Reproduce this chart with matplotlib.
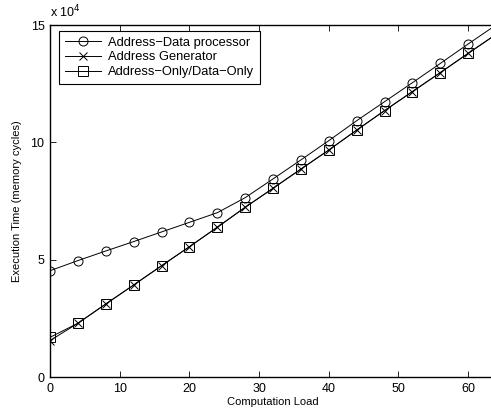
import numpy as np
import matplotlib.pyplot as plt

plt.rcParams['font.family'] = ['Liberation Sans', 'DejaVu Sans']

# computation load (x) and execution times in units of 1e4 memory cycles
load = [0, 4, 8, 12, 16, 20, 24, 28, 32, 36, 40, 44, 48, 52, 56, 60, 64]
addr_data = [4.53, 4.96, 5.37, 5.77, 6.18, 6.59, 7.00, 7.64, 8.44, 9.25,
             10.07, 10.92, 11.73, 12.54, 13.36, 14.19, 15.00]
addr_gen = [1.55, 2.29, 3.11, 3.92, 4.74, 5.55, 6.38, 7.23, 8.04, 8.86,
            9.67, 10.52, 11.35, 12.16, 12.97, 13.79, 14.60]
addr_only = [1.69, 2.29, 3.11, 3.92, 4.74, 5.55, 6.38, 7.23, 8.04, 8.86,
             9.67, 10.52, 11.35, 12.16, 12.97, 13.79, 14.60]

fig = plt.figure(figsize=(4.91, 4.13), dpi=100)
ax = fig.add_axes([50 / 491, 36 / 413, 446 / 491, 352 / 413])

scale = 1e4
ax.plot(load, np.array(addr_data) * scale, color='k', lw=0.7, marker='o',
        ms=6.5, mfc='none', mew=0.7, label='Address\u2212Data processor')
ax.plot(load, np.array(addr_gen) * scale, color='k', lw=0.7, marker='x',
        ms=6, mew=0.7, label='Address Generator')
ax.plot(load, np.array(addr_only) * scale, color='k', lw=0.7, marker='s',
        ms=6.5, mfc='none', mew=0.7, label='Address\u2212Only/Data\u2212Only')

ax.set_xlim(0, 64)
ax.set_ylim(0, 15e4)
ax.set_xticks([0, 10, 20, 30, 40, 50, 60])
ax.set_yticks([0, 5e4, 10e4, 15e4])
ax.set_yticklabels(['0', '5', '10', '15'])
ax.tick_params(direction='in', length=4, width=0.6, top=True, right=False,
               labelsize=9, pad=4)
for s in ax.spines.values():
    s.set_linewidth(1.0)

ax.text(0.0, 1.012, 'x 10$^4$', transform=ax.transAxes, fontsize=9,
        ha='left', va='bottom')

ax.set_xlabel('Computation Load', fontsize=8, labelpad=2)
ax.set_ylabel('Execution Time (memory cycles)', fontsize=8, labelpad=6)

leg = ax.legend(loc='upper left', bbox_to_anchor=(9 / 446, 1 - 6 / 352),
                fontsize=9.3, frameon=True, fancybox=False,
                edgecolor='k', framealpha=1, borderaxespad=0,
                handlelength=2.8, handletextpad=0.55, borderpad=0.45,
                labelspacing=0.2)
leg.get_frame().set_linewidth(0.8)

fig.savefig('out.png', dpi=100)
